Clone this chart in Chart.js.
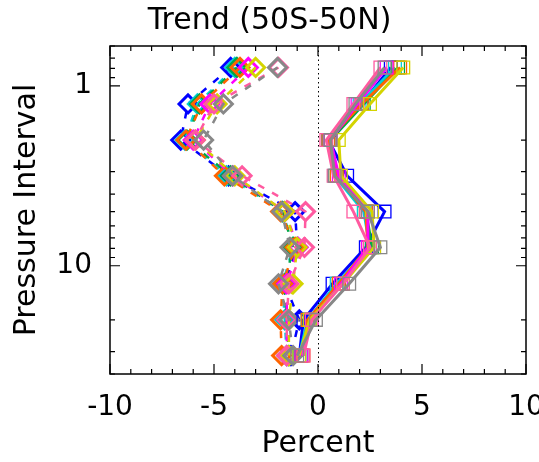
<!DOCTYPE html>
<html>
<head>
<meta charset="utf-8">
<script src="https://cdn.jsdelivr.net/npm/chart.js@4"></script>
<style>
  body { margin: 0; background: #fff; }
  canvas { display: block; }
</style>
</head>
<body>
<canvas id="trend" width="539" height="462"></canvas>
<script>
// pressure levels (log axis, reversed) and x tick labels
const levels = [0.79, 1.26, 2.0, 3.16, 5.0, 7.9, 12.6, 20, 31.6];
const xTicks = [-10, -5, 0, 5, 10];
const yTicks = [1, 10];
const yMinor = [0.6, 0.7, 0.8, 0.9, 2, 3, 4, 5, 6, 7, 8, 9, 20, 30, 40];

const seriesColors = ["#0000ff", "#00d0d8", "#00a848", "#ff6400", "#ff00ff", "#d4d400", "#ff5aa0", "#888888"];

// dashed profiles with diamonds (one row per colour)
const diamondSeries = [
  [-4.2, -6.25, -6.6, -4.3, -1.1, -1.0, -1.6, -0.9, -1.3],
  [-4.0, -5.8, -6.4, -4.4, -1.7, -1.2, -1.7, -1.6, -1.5],
  [-3.9, -5.7, -6.3, -4.2, -1.7, -1.2, -1.6, -1.5, -1.4],
  [-3.75, -5.6, -6.35, -4.5, -1.8, -1.1, -1.7, -1.8, -1.75],
  [-3.35, -5.2, -6.0, -4.1, -1.6, -0.95, -1.5, -1.5, -1.5],
  [-3.0, -4.85, -5.9, -4.0, -1.6, -1.0, -1.2, -1.4, -1.4],
  [-1.9, -5.0, -5.9, -3.65, -0.6, -0.65, -1.4, -1.5, -1.5],
  [-1.95, -4.55, -5.5, -4.1, -1.75, -1.35, -1.9, -1.4, -1.2],
];

// solid profiles with squares
const squareSeries = [
  [3.5, 2.1, 0.5, 1.4, 3.2, 2.3, 0.7, -0.7, -0.9],
  [3.7, 2.0, 0.5, 0.8, 2.2, 2.5, 0.9, -0.5, -0.9],
  [3.85, 2.2, 0.6, 0.9, 2.3, 2.6, 1.0, -0.4, -0.8],
  [3.95, 2.1, 0.5, 0.9, 2.3, 2.4, 1.0, -0.5, -0.7],
  [3.3, 1.9, 0.6, 1.0, 2.4, 2.4, 1.1, -0.3, -0.8],
  [4.1, 2.5, 1.0, 1.1, 2.6, 2.7, 1.2, -0.4, -0.9],
  [3.0, 1.7, 0.4, 0.75, 1.7, 2.5, 1.2, -0.3, -0.7],
  [3.2, 1.8, 0.6, 0.8, 2.4, 3.0, 1.5, -0.1, -1.0],
];

const FONT = "'DejaVu Sans', sans-serif";

const toPoints = (vals) => vals.map((v, i) => ({ x: v, y: levels[i] }));

const datasets = [];
seriesColors.forEach((c, i) => {
  datasets.push({
    data: toPoints(diamondSeries[i]),
    showLine: true,
    borderColor: c,
    borderWidth: 2.5,
    borderDash: [7, 9],
    pointStyle: "rectRot",
    pointRadius: 9,
    pointBorderWidth: 3,
    pointBorderColor: c,
    pointBackgroundColor: "rgba(0,0,0,0)",
    order: seriesColors.length * 2 - i,
  });
  datasets.push({
    data: toPoints(squareSeries[i]),
    showLine: true,
    borderColor: c,
    borderWidth: 3,
    pointStyle: "rect",
    pointRadius: 9,
    pointBorderWidth: 1.3,
    pointBorderColor: c,
    pointBackgroundColor: "rgba(0,0,0,0)",
    order: seriesColors.length - i,
  });
});

// box, inward ticks and the dotted zero line
const framePlugin = {
  id: "frame",
  afterDraw(chart) {
    const { ctx, chartArea: a } = chart;
    const xs = chart.scales.x, ys = chart.scales.y;
    ctx.save();
    ctx.strokeStyle = "#000";
    ctx.lineWidth = 1;
    ctx.setLineDash([1.5, 3]);
    const x0 = Math.round(xs.getPixelForValue(0)) + 0.5;
    ctx.beginPath();
    ctx.moveTo(x0, a.top);
    ctx.lineTo(x0, a.bottom);
    ctx.stroke();
    ctx.setLineDash([]);

    ctx.lineWidth = 1.5;
    ctx.strokeRect(a.left, a.top, a.right - a.left, a.bottom - a.top);
    ctx.lineWidth = 1.2;
    ctx.beginPath();
    for (let v = -10; v <= 10; v++) {
      const len = v % 5 === 0 ? 10 : 5;
      const px = xs.getPixelForValue(v);
      ctx.moveTo(px, a.bottom); ctx.lineTo(px, a.bottom - len);
      ctx.moveTo(px, a.top); ctx.lineTo(px, a.top + len);
    }
    yTicks.concat(yMinor).forEach((v) => {
      const len = yTicks.includes(v) ? 10 : 5;
      const py = ys.getPixelForValue(v);
      ctx.moveTo(a.left, py); ctx.lineTo(a.left + len, py);
      ctx.moveTo(a.right, py); ctx.lineTo(a.right - len, py);
    });
    ctx.stroke();
    ctx.restore();
  },
};

new Chart(document.getElementById("trend"), {
  type: "scatter",
  data: { datasets },
  plugins: [framePlugin],
  options: {
    responsive: false,
    animation: false,
    layout: { padding: 0 },
    plugins: {
      legend: { display: false },
      tooltip: { enabled: false },
      title: {
        display: true,
        text: "Trend (50S-50N)",
        color: "#000",
        font: { family: FONT, size: 30, weight: "normal" },
        padding: { top: 3, bottom: 7 },
      },
    },
    scales: {
      x: {
        type: "linear",
        min: -10,
        max: 10,
        grid: { display: false, drawTicks: false },
        border: { display: false },
        afterBuildTicks: (s) => { s.ticks = xTicks.map((v) => ({ value: v })); },
        afterFit: (s) => { s.height = 88; s.paddingRight = 13; },
        ticks: {
          color: "#000",
          padding: 17,
          maxRotation: 0,
          font: { family: FONT, size: 28 },
          callback: (v) => String(v),
        },
        title: {
          display: true,
          text: "Percent",
          color: "#000",
          font: { family: FONT, size: 30 },
          padding: { top: 2, bottom: 0 },
        },
      },
      y: {
        type: "logarithmic",
        reverse: true,
        min: 0.6,
        max: 40,
        grid: { display: false, drawTicks: false },
        border: { display: false },
        afterBuildTicks: (s) => { s.ticks = yTicks.map((v) => ({ value: v })); },
        afterFit: (s) => { s.width = 110; },
        ticks: {
          color: "#000",
          padding: 18,
          font: { family: FONT, size: 28 },
          callback: (v) => String(v),
        },
        title: {
          display: true,
          text: "Pressure Interval",
          color: "#000",
          font: { family: FONT, size: 30 },
          padding: { top: 9, bottom: 0 },
        },
      },
    },
  },
});
</script>
</body>
</html>
